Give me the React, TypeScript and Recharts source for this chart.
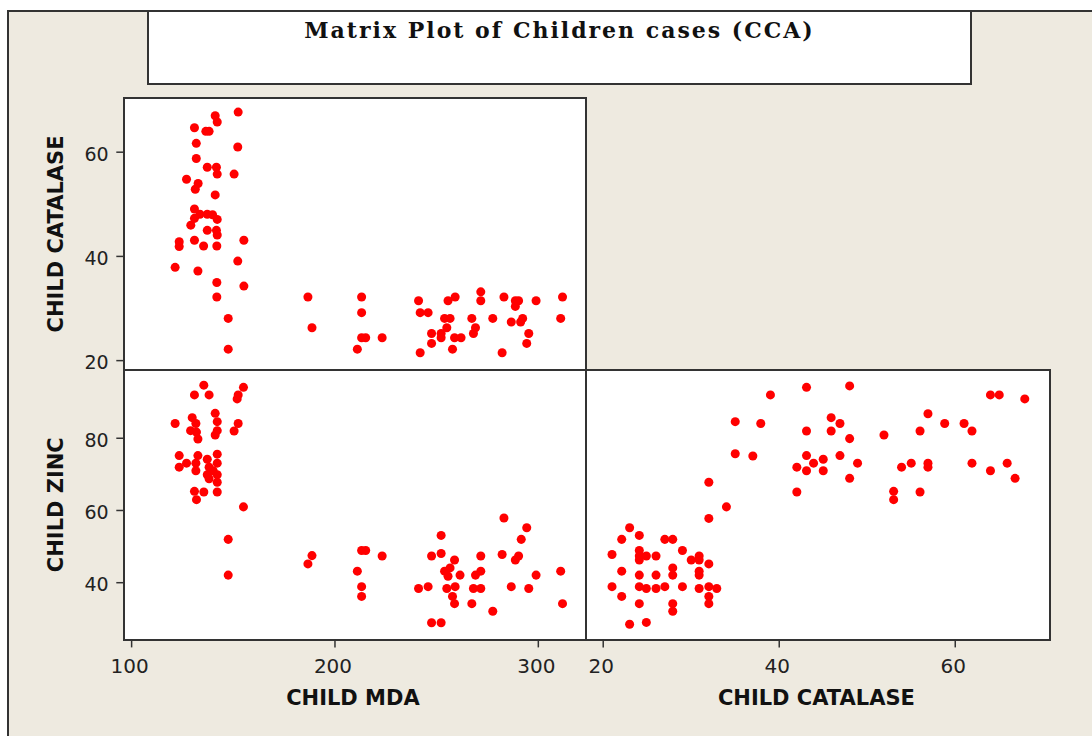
import { ScatterChart, Scatter, XAxis, YAxis } from 'recharts';

const BEIGE = '#EEEAE0';
const LINE = '#333333';
const DOT = '#FF0000';
const TEXT = '#222222';

const TITLE = 'Matrix Plot of Children cases (CCA)';
const MDA_LABEL = 'CHILD MDA';
const CATALASE_LABEL = 'CHILD CATALASE';
const ZINC_LABEL = 'CHILD ZINC';

const mdaTicks = [100, 200, 300];
const catalaseTicks = [20, 40, 60];
const zincTicks = [40, 60, 80];

// axis ranges as Minitab drew them
const mdaDomain = [96.4, 323.2];
const catalaseYDomain = [18.2, 70.4];
const catalaseXDomain = [18.1, 70.8];
const zincDomain = [24.3, 98.9];

// [MDA, catalase]
const mdaCatalase = [
  [152.4, 67.7], [141.1, 67.0], [142.1, 65.8], [130.9, 64.7], [136.5, 64.0], [138.1, 64.0],
  [131.8, 61.7], [152.2, 61.0], [131.8, 58.8], [137.2, 57.1], [141.7, 57.1], [142.1, 55.8],
  [150.4, 55.8], [127.0, 54.8], [132.7, 54.0], [131.3, 52.9], [141.1, 51.8], [130.9, 49.1],
  [133.6, 48.1], [137.2, 48.1], [139.8, 48.0], [130.9, 47.3], [142.1, 47.1], [129.1, 46.0],
  [137.2, 45.0], [141.7, 45.0], [142.1, 44.1], [123.4, 42.8], [123.4, 41.9], [130.9, 43.1],
  [135.4, 42.0], [141.9, 42.0], [155.2, 43.1], [152.2, 39.1], [121.4, 37.9], [132.6, 37.2],
  [141.9, 35.0], [155.2, 34.3], [141.9, 32.2], [147.5, 28.1], [147.5, 22.2],
  [186.7, 32.2], [188.7, 26.3], [213.1, 32.2], [213.1, 29.2], [213.1, 24.4], [215.1, 24.4],
  [223.2, 24.4], [211.0, 22.2], [241.1, 31.5], [241.9, 29.2], [245.8, 29.2], [241.9, 21.5],
  [247.5, 25.2], [247.5, 23.3], [252.2, 25.2], [252.2, 24.4], [253.9, 28.1], [256.6, 28.1],
  [255.0, 26.3], [255.6, 31.5], [259.1, 32.2], [257.8, 22.2], [258.8, 24.4], [262.0, 24.4],
  [267.3, 28.1], [269.1, 26.3], [268.1, 25.2], [271.7, 33.2], [271.7, 31.5], [277.6, 28.1],
  [282.2, 21.5], [283.1, 32.2], [288.7, 31.5], [290.3, 31.5], [288.7, 30.4], [286.7, 27.4],
  [292.3, 28.1], [291.3, 27.4], [295.3, 25.2], [294.3, 23.3], [298.9, 31.5], [311.9, 32.2],
  [311.0, 28.1],
];

// [MDA, zinc]
const mdaZinc = [
  [135.5, 94.7], [130.9, 92.0], [138.1, 92.0], [155.0, 94.1], [152.4, 92.0], [151.9, 90.9],
  [121.4, 84.1], [129.8, 85.7], [131.6, 84.1], [129.0, 82.1], [131.9, 81.7], [132.6, 79.8],
  [141.1, 86.9], [142.1, 84.6], [142.1, 82.1], [141.1, 80.9], [152.4, 84.1], [150.4, 82.0],
  [123.4, 75.2], [123.4, 72.0], [127.0, 73.1], [132.6, 75.2], [131.6, 73.1], [131.6, 71.0],
  [137.2, 74.2], [138.1, 72.0], [137.2, 69.9], [142.1, 75.6], [142.1, 73.1], [140.1, 71.0],
  [142.1, 69.9], [142.1, 67.8], [138.1, 68.8], [130.9, 65.3], [135.5, 65.1], [131.9, 63.0],
  [142.1, 65.1], [155.0, 61.0], [147.5, 52.0], [147.5, 42.1],
  [188.7, 47.5], [186.7, 45.2], [213.1, 48.9], [215.1, 48.9], [223.2, 47.4], [211.0, 43.2],
  [213.1, 38.9], [213.1, 36.2], [241.1, 38.4], [245.8, 38.9], [247.5, 28.9], [252.2, 28.9],
  [252.2, 53.1], [247.5, 47.4], [252.2, 48.1], [258.8, 46.3], [256.6, 44.1], [253.9, 43.2],
  [255.6, 41.8], [261.5, 42.1], [255.0, 38.4], [259.1, 38.9], [257.8, 36.2], [258.8, 34.2],
  [267.3, 34.2], [268.1, 38.4], [271.7, 38.4], [269.1, 42.1], [271.7, 43.2], [271.7, 47.4],
  [277.6, 32.1], [282.2, 47.8], [283.1, 57.9], [288.7, 46.3], [290.3, 47.4], [291.6, 52.0],
  [294.3, 55.2], [286.7, 38.9], [295.3, 38.4], [298.9, 42.1], [311.0, 43.2], [311.9, 34.2],
];

// [catalase, zinc]
const catalaseZinc = [
  [39.0, 92.0], [43.1, 94.1], [48.0, 94.5], [64.0, 92.0], [65.0, 92.0], [67.9, 90.9],
  [35.0, 84.6], [37.9, 84.1], [45.9, 85.7], [46.9, 84.1], [43.1, 82.0], [45.9, 82.0],
  [48.0, 79.9], [51.9, 80.9], [56.9, 86.8], [56.0, 82.0], [58.8, 84.1], [61.0, 84.1],
  [61.9, 82.0], [35.0, 75.7], [37.0, 75.1], [43.1, 75.2], [42.0, 72.0], [43.1, 71.0],
  [43.9, 73.1], [45.0, 74.2], [45.0, 71.0], [46.9, 75.2], [48.9, 73.1], [48.0, 68.9],
  [42.0, 65.1], [53.9, 72.0], [55.0, 73.1], [56.9, 73.1], [56.9, 72.0], [53.0, 65.3],
  [53.0, 63.0], [56.0, 65.1], [61.9, 73.1], [64.0, 71.0], [65.9, 73.1], [66.8, 68.9],
  [32.0, 67.8], [34.0, 61.0], [32.0, 57.8],
  [23.0, 55.2], [22.1, 52.0], [24.1, 53.1], [21.0, 47.8], [24.1, 48.9], [24.1, 47.4],
  [24.1, 46.3], [24.9, 47.4], [26.0, 47.4], [27.0, 52.0], [27.9, 52.0], [29.0, 48.9],
  [30.0, 46.3], [30.9, 47.4], [30.9, 46.3], [32.0, 45.2], [22.1, 43.2], [24.1, 42.1],
  [26.0, 42.1], [27.9, 44.1], [27.9, 42.1], [30.9, 43.2], [30.9, 42.1], [21.0, 38.9],
  [22.1, 36.2], [24.1, 38.9], [24.9, 38.4], [26.0, 38.4], [27.0, 38.9], [29.0, 38.9],
  [30.9, 38.4], [32.0, 38.9], [32.9, 38.4], [32.0, 36.2], [32.0, 34.2], [24.1, 34.2],
  [27.9, 34.2], [27.9, 32.1], [23.0, 28.5], [24.9, 29.0],
];

const toXY = (pts: number[][]) => pts.map(([x, y]) => ({ x, y }));

const W = 1092;
const H = 736;

const tickFont = { fill: TEXT, fontFamily: 'DejaVu Sans' };
const tickLine = { stroke: LINE, strokeWidth: 1.5 };
const titleFont = { fill: '#111', fontFamily: 'DejaVu Sans', fontWeight: 700, fontSize: 21 };

function YTitle({ viewBox, value }: any) {
  const x = 63.3;
  const y = viewBox.y + viewBox.height / 2;
  return (
    <text x={x} y={y} transform={`rotate(-90 ${x} ${y})`} textAnchor="middle" style={titleFont}>
      {value}
    </text>
  );
}

function XTitle({ viewBox, value }: any) {
  return (
    <text x={viewBox.x + viewBox.width / 2 - 2} y={viewBox.y + 66} textAnchor="middle" style={titleFont}>
      {value}
    </text>
  );
}

const layer: React.CSSProperties = { position: 'absolute', left: 0, top: 0 };
const box = (left: number, top: number, width: number, height: number): React.CSSProperties => ({
  position: 'absolute', left, top, width, height, boxSizing: 'border-box',
  border: `2px solid ${LINE}`, background: '#fff',
});

export default function App() {
  return (
    <div style={{ position: 'fixed', left: 0, top: 0, width: W, height: H, overflow: 'hidden', background: '#fff' }}>
      {/* beige frame */}
      <div style={{
        position: 'absolute', left: 7, top: 10, width: W, height: H, background: BEIGE,
        borderLeft: `2px solid ${LINE}`, borderTop: `2px solid ${LINE}`,
      }} />

      {/* title box */}
      <div style={box(147, 10, 825, 75)} />
      <svg width={W} height={100} style={layer}>
        <text x={559.5} y={38} textAnchor="middle"
          style={{ fontFamily: 'DejaVu Serif', fontWeight: 700, fontSize: 22, letterSpacing: 2, fill: '#111' }}>
          {TITLE}
        </text>
      </svg>

      {/* panel frames */}
      <div style={box(123, 97, 464, 274)} />
      <div style={box(123, 369, 464, 272)} />
      <div style={box(585, 369, 466, 272)} />

      {/* MDA vs catalase */}
      <div style={layer}>
        <ScatterChart width={W} height={H} margin={{ top: 98, right: 506.5, bottom: 366, left: 0 }}>
          <XAxis type="number" dataKey="x" domain={mdaDomain} allowDataOverflow hide />
          <YAxis type="number" dataKey="y" domain={catalaseYDomain} allowDataOverflow width={124.3}
            ticks={catalaseTicks} interval={0} axisLine={false} tickLine={tickLine} tickSize={8} tickMargin={7.6}
            tick={{ ...tickFont, fontSize: 19, dy: 2 }}
            label={<YTitle value={CATALASE_LABEL} />} />
          <Scatter data={toXY(mdaCatalase)} fill={DOT} isAnimationActive={false} />
        </ScatterChart>
      </div>

      {/* MDA vs zinc */}
      <div style={layer}>
        <ScatterChart width={W} height={H} margin={{ top: 370, right: 506.5, bottom: 16.6, left: 0 }}>
          <XAxis type="number" dataKey="x" domain={mdaDomain} allowDataOverflow height={80}
            ticks={mdaTicks} interval={0} axisLine={false} tickLine={tickLine} tickSize={8} tickMargin={11}
            tick={{ ...tickFont, fontSize: 20, dx: -2 }}
            label={<XTitle value={MDA_LABEL} />} />
          <YAxis type="number" dataKey="y" domain={zincDomain} allowDataOverflow width={124.3}
            ticks={zincTicks} interval={0} axisLine={false} tickLine={tickLine} tickSize={8} tickMargin={7.6}
            tick={{ ...tickFont, fontSize: 19, dy: 2 }}
            label={<YTitle value={ZINC_LABEL} />} />
          <Scatter data={toXY(mdaZinc)} fill={DOT} isAnimationActive={false} />
        </ScatterChart>
      </div>

      {/* catalase vs zinc */}
      <div style={layer}>
        <ScatterChart width={W} height={H} margin={{ top: 370, right: 41.7, bottom: 16.6, left: 586.5 }}>
          <XAxis type="number" dataKey="x" domain={catalaseXDomain} allowDataOverflow height={80}
            ticks={catalaseTicks} interval={0} axisLine={false} tickLine={tickLine} tickSize={8} tickMargin={11}
            tick={{ ...tickFont, fontSize: 20, dx: -2 }}
            label={<XTitle value={CATALASE_LABEL} />} />
          <YAxis type="number" dataKey="y" domain={zincDomain} allowDataOverflow hide />
          <Scatter data={toXY(catalaseZinc)} fill={DOT} isAnimationActive={false} />
        </ScatterChart>
      </div>
    </div>
  );
}
